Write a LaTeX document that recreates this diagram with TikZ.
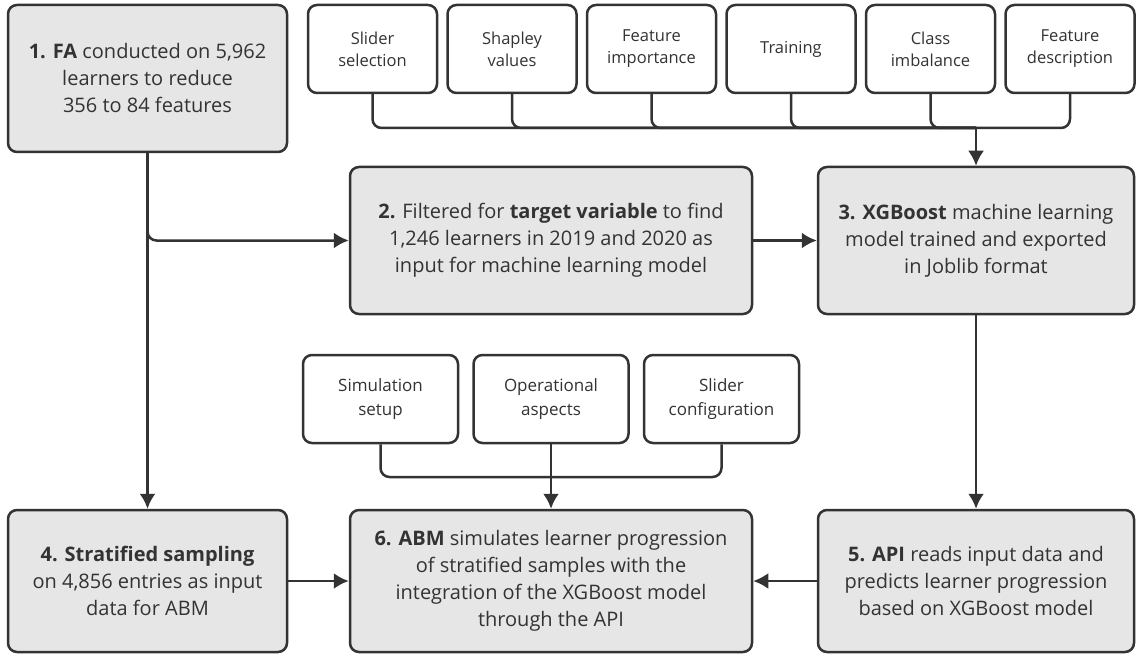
\documentclass[tikz,border=0pt]{standalone}
\usepackage{fontspec}
\setmainfont{Open Sans}
\usepackage{xcolor}
\usetikzlibrary{arrows.meta}
\definecolor{ink}{HTML}{333333}
\definecolor{boxgray}{HTML}{E6E6E6}

\begin{document}
\begin{tikzpicture}[x=1pt,y=-1pt]
\tikzset{>={Latex[width=16pt,length=15pt]}}
\tikzstyle{stagebox}=[draw=ink,fill=boxgray,line width=2.5pt,rounded corners=9pt,align=center,inner sep=0pt,text=ink,font=\fontsize{20}{27}\selectfont]
\tikzstyle{topbox}=[draw=ink,fill=white,line width=2.5pt,rounded corners=9pt,align=center,inner sep=0pt,minimum width=129pt,minimum height=88pt,text=ink,font=\fontsize{16.5}{22}\selectfont]
\tikzstyle{midbox}=[topbox,minimum width=155pt,minimum height=88pt,font=\fontsize{17}{24}\selectfont]
\tikzstyle{link}=[draw=ink,line width=2.5pt]

\useasboundingbox (0,0) rectangle (1137,655);

\node[stagebox,minimum width=279pt,minimum height=147pt](fa) at (147.5,78.5){\textbf{1. FA} conducted on 5,962\\learners to reduce\\356 to 84 features};
\node[stagebox,minimum width=402pt,minimum height=147pt](filter) at (551,240.5){\textbf{2.} Filtered for \textbf{target variable} to find\\1,246 learners in 2019 and 2020 as\\input for machine learning model};
\node[stagebox,minimum width=316pt,minimum height=147pt](xgb) at (976,240.5){\textbf{3. XGBoost} machine learning\\model trained and exported\\in Joblib format};
\node[stagebox,minimum width=279pt,minimum height=142pt](strat) at (147.5,581){\textbf{4. Stratified sampling}\\on 4,856 entries as input\\data for ABM};
\node[stagebox,minimum width=402pt,minimum height=142pt](abm) at (551,581){\textbf{6. ABM} simulates learner progression\\of stratified samples with the\\integration of the XGBoost model\\through the API};
\node[stagebox,minimum width=316pt,minimum height=142pt](api) at (976,581){\textbf{5. API} reads input data and\\predicts learner progression\\based on XGBoost model};

\node[topbox](slider) at (372.5,49){Slider\\selection};
\node[topbox](shap) at (512,49){Shapley\\values};
\node[topbox](fimp) at (651.5,49){Feature\\importance};
\node[topbox](train) at (791,49){Training};
\node[topbox](imb) at (930.5,49){Class\\imbalance};
\node[topbox](fdesc) at (1070,49){Feature\\description};

\node[midbox](simsetup) at (380.5,399){Simulation\\setup};
\node[midbox](operat) at (551,399){Operational\\aspects};
\node[midbox](sliderconf) at (721.5,399){Slider\\configuration};

\coordinate (j1) at (976,128);
\coordinate (j2) at (551,477);

\foreach \n in {slider,shap,fimp,train,imb,fdesc}
  \draw[link,rounded corners=9pt] (\n.south) |- (j1);
\draw[link,->] (j1) -- (xgb.north);

\foreach \n in {simsetup,operat,sliderconf}
  \draw[link,rounded corners=9pt] (\n.south) |- (j2);
\draw[link,->] (j2) -- (abm.north);

\draw[link,->] (fa.south) -- (strat.north);
\draw[link,->,rounded corners=9pt] (fa.south) |- (filter.west);
\draw[link,->] (filter) -- (xgb);
\draw[link,->] (xgb) -- (api);
\draw[link,->] (strat) -- (abm);
\draw[link,->] (api) -- (abm);
\end{tikzpicture}
\end{document}
